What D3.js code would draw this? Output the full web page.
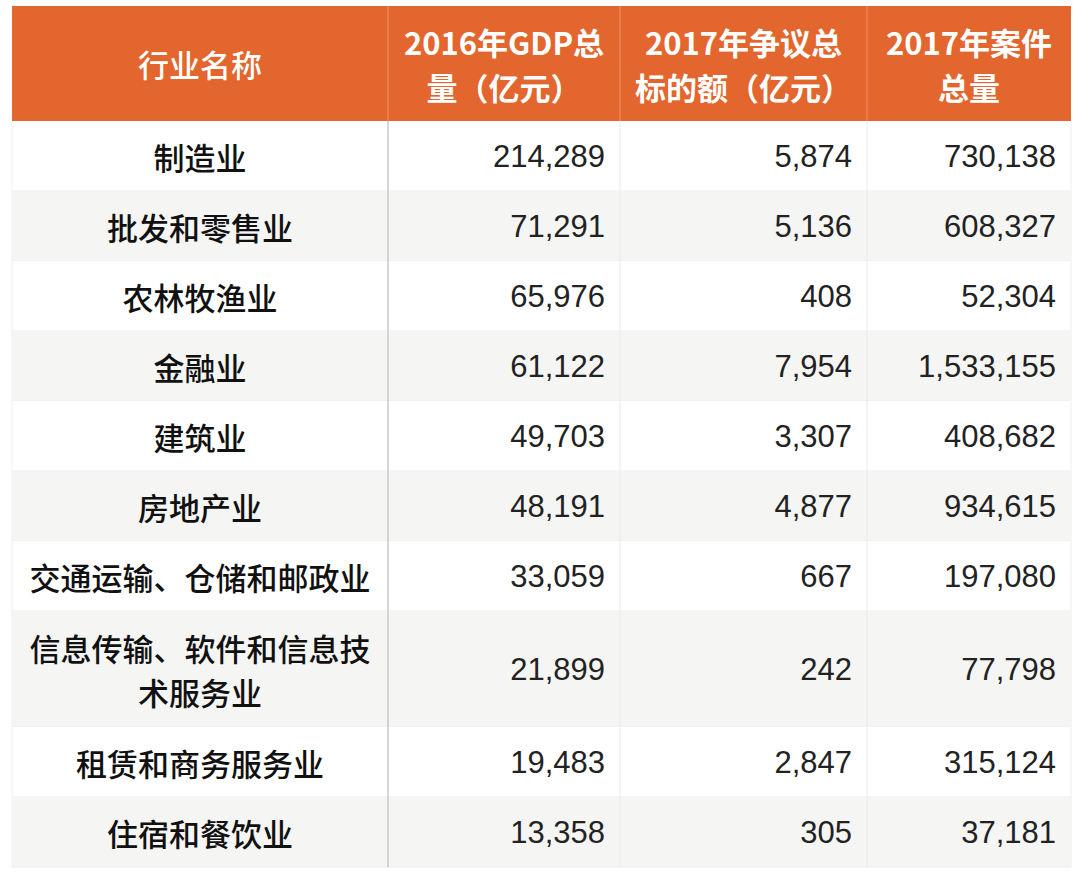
<!DOCTYPE html>
<html><head><meta charset="utf-8">
<script src="https://cdn.jsdelivr.net/npm/d3@7"></script>
<style>
html,body{margin:0;padding:0;background:#fff;}
svg{display:block;}
</style></head>
<body>
<svg id="chart" width="1080" height="878"></svg>
<script>
const headers = [["行业名称"], ["2016年GDP总", "量（亿元）"], ["2017年争议总", "标的额（亿元）"], ["2017年案件", "总量"]];
const industries = [["制造业"], ["批发和零售业"], ["农林牧渔业"], ["金融业"], ["建筑业"], ["房地产业"], ["交通运输、仓储和邮政业"], ["信息传输、软件和信息技", "术服务业"], ["租赁和商务服务业"], ["住宿和餐饮业"]];
const gdp2016 = [214289, 71291, 65976, 61122, 49703, 48191, 33059, 21899, 19483, 13358];
const disputeAmount2017 = [5874, 5136, 408, 7954, 3307, 4877, 667, 242, 2847, 305];
const caseCount2017 = [730138, 608327, 52304, 1533155, 408682, 934615, 197080, 77798, 315124, 37181];

const svg = d3.select("#chart");
const colEdges = [12, 388, 620, 867, 1071];
const x = d3.scaleOrdinal().domain([0,1,2,3]).range(colEdges.slice(0,4));
const colW = i => colEdges[i+1]-colEdges[i];
const headerTop = 6, headerH = 115;
const baseRowH = 70, extraLineH = 44;
const fmt = d3.format(",");
const cjk = "'PingFang SC','Noto Sans CJK SC','Noto Sans',sans-serif";
const num = "'Helvetica Neue','Liberation Sans',Arial,sans-serif";

const rows = industries.map((name,i)=>({name, vals:[gdp2016[i], disputeAmount2017[i], caseCount2017[i]], h: baseRowH + (name.length-1)*46, i}));
let yAcc = headerTop + headerH;
rows.forEach(r=>{ r.y = yAcc; yAcc += r.h; });
const tableBottom = yAcc;

// header
svg.append("rect").attr("x",colEdges[0]).attr("y",headerTop).attr("width",colEdges[4]-colEdges[0]).attr("height",headerH).attr("fill","#E2662D");
const hg = svg.append("g");
headers.forEach((lines,ci)=>{
  const cx = x(ci)+colW(ci)/2;
  const cy = headerTop + headerH/2;
  const lh = 45;
  lines.forEach((t,li)=>{
    hg.append("text").attr("x",cx).attr("y",cy + (li-(lines.length-1)/2)*lh)
      .attr("text-anchor","middle").attr("dominant-baseline","central")
      .attr("fill","#fff").attr("font-weight",ci===0?500:700).attr("font-size",31)
      .attr("font-family",cjk).text(t);
  });
});
[1,2,3].forEach(ci=>{
  svg.append("line").attr("x1",x(ci)).attr("x2",x(ci)).attr("y1",headerTop).attr("y2",headerTop+headerH)
    .attr("stroke", "#EC8A5C").attr("stroke-width",1.2);
});

// rows
const rg = svg.selectAll("g.row").data(rows).join("g").attr("class","row");
rg.append("rect").attr("x",colEdges[0]).attr("y",d=>d.y).attr("width",colEdges[4]-colEdges[0]).attr("height",d=>d.h)
  .attr("fill",d=>d.i%2===1?"#F5F5F4":"#FFFFFF");
rg.append("line").attr("x1",colEdges[0]).attr("x2",colEdges[4]).attr("y1",d=>d.y+d.h).attr("y2",d=>d.y+d.h)
  .attr("stroke","#ECECEC").attr("stroke-width",1);
rg.each(function(d){
  const g = d3.select(this);
  const cx = x(0)+colW(0)/2, cy = d.y + d.h/2;
  d.name.forEach((t,li)=>{
    g.append("text").attr("x",cx).attr("y",cy+(li-(d.name.length-1)/2)*extraLineH)
      .attr("text-anchor","middle").attr("dominant-baseline","central")
      .attr("fill","#111").attr("font-weight",500).attr("font-size",31)
      .attr("font-family",cjk).text(t);
  });
  d.vals.forEach((v,vi)=>{
    g.append("text").attr("x",x(vi+1)+colW(vi+1)-15).attr("y",cy)
      .attr("text-anchor","end").attr("dominant-baseline","central")
      .attr("fill","#222").attr("font-size",31)
      .attr("font-family",num).text(fmt(v));
  });
});

// vertical separators
svg.append("line").attr("x1",x(1)).attr("x2",x(1)).attr("y1",headerTop+headerH).attr("y2",tableBottom)
  .attr("stroke","#BDBDBD").attr("stroke-width",1.2);
[2,3].forEach(ci=>{
  svg.append("line").attr("x1",x(ci)).attr("x2",x(ci)).attr("y1",headerTop+headerH).attr("y2",tableBottom)
    .attr("stroke","#EAEAEA").attr("stroke-width",1);
});
svg.append("line").attr("x1",colEdges[0]).attr("x2",colEdges[0]).attr("y1",headerTop+headerH).attr("y2",tableBottom)
  .attr("stroke","#F0F0F0").attr("stroke-width",1);
svg.append("line").attr("x1",colEdges[4]).attr("x2",colEdges[4]).attr("y1",headerTop+headerH).attr("y2",tableBottom)
  .attr("stroke","#F0F0F0").attr("stroke-width",1);
</script>
</body></html>
